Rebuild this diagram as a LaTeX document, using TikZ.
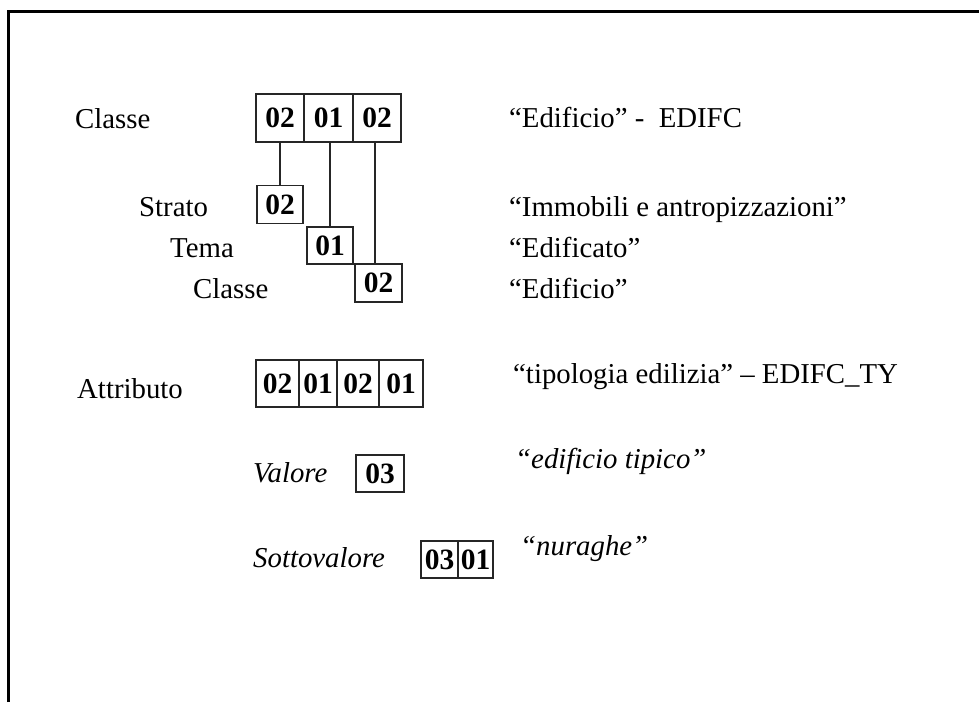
\documentclass[tikz,border=0pt]{standalone}
\usepackage{fontspec}
\setmainfont{Liberation Serif}
\begin{document}
\begin{tikzpicture}[x=1pt,y=-1pt,
  lbl/.style={anchor=base west, inner sep=0pt, font=\fontsize{28.8}{34}\selectfont},
  ilbl/.style={anchor=base west, inner sep=0pt, font=\fontsize{28.8}{34}\selectfont\itshape},
  cell/.style={draw=black!85, line width=1.5pt, inner sep=0pt, font=\fontsize{29.5}{34}\selectfont\bfseries},
  link/.style={draw=black!85, line width=1.6pt},
  frame/.style={draw=black, line width=3pt}]
\useasboundingbox (0,0) rectangle (979,702);
% frame
\coordinate (fbl) at (8.5,702);
\coordinate (ftl) at (8.5,11.5);
\coordinate (ftr) at (979,11.5);
\draw[frame] (fbl) -- (ftl) -- (ftr);
% Classe code
\node[cell, minimum width=48pt, minimum height=48pt] (c1) at (280,118) {02};
\node[cell, minimum width=49pt, minimum height=48pt] (c2) at (328.5,118) {01};
\node[cell, minimum width=48pt, minimum height=48pt] (c3) at (377,118) {02};
% breakdown
\node[cell, minimum width=46pt, minimum height=38pt] (s) at (280,204.5) {02};
\node[cell, minimum width=46pt, minimum height=37pt] (t) at (330,245.5) {01};
\node[cell, minimum width=47pt, minimum height=38pt] (k) at (378.5,283) {02};
\draw[link] (s.north) -- (s.north |- c1.south);
\draw[link] (t.north) -- (t.north |- c2.south);
\draw[link] ([xshift=-3.5pt]k.north) -- ([xshift=-3.5pt]k.north |- c3.south);
% Attributo code
\node[cell, minimum width=43pt, minimum height=47pt] (a1) at (277.5,383.5) {02};
\node[cell, minimum width=38pt, minimum height=47pt] (a2) at (318,383.5) {01};
\node[cell, minimum width=42pt, minimum height=47pt] (a3) at (358,383.5) {02};
\node[cell, minimum width=44pt, minimum height=47pt] (a4) at (401,383.5) {01};
% Valore
\node[cell, minimum width=48pt, minimum height=37pt] (v) at (380,473.5) {03};
% Sottovalore
\node[cell, minimum width=37pt, minimum height=37pt] (w1) at (439.5,559.5) {03};
\node[cell, minimum width=35pt, minimum height=37pt] (w2) at (475.5,559.5) {01};
% left labels
\node[lbl] (lclasse) at (75,128) {Classe};
\node[lbl] (lstrato) at (139,216) {Strato};
\node[lbl] (ltema) at (170,257) {Tema};
\node[lbl] (lclasse2) at (193,298) {Classe};
\node[lbl] (lattr) at (77,398) {Attributo};
\node[ilbl] (lval) at (253,482) {Valore};
\node[ilbl] (lsott) at (253,567) {Sottovalore};
% right labels
\node[lbl] (rclasse) at (509,127) {“Edificio” -\ \ EDIFC};
\node[lbl] (rstrato) at (509,216) {“Immobili e antropizzazioni”};
\node[lbl] (rtema) at (509,257) {“Edificato”};
\node[lbl] (rclasse2) at (509,298) {“Edificio”};
\node[lbl] (rattr) at (513,383) {“tipologia edilizia” – EDIFC\_TY};
\node[ilbl] (rval) at (515,468) {“edificio tipico”};
\node[ilbl] (rsott) at (520,555) {“nuraghe”};
\end{tikzpicture}
\end{document}
